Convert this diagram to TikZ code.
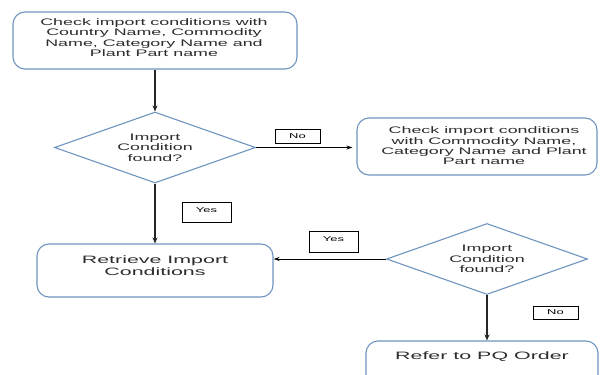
\documentclass[tikz,border=0pt]{standalone}
\usepackage{fontspec}
\setmainfont{Liberation Sans}
\newfontfamily\sfs[FakeStretch=1.88]{Liberation Sans}
\newfontfamily\sfl[FakeStretch=2.0]{Liberation Sans}
\newfontfamily\sft[FakeStretch=1.85]{Liberation Sans}
\usetikzlibrary{shapes.geometric,arrows.meta}
\definecolor{boxblue}{RGB}{112,148,192}
\definecolor{txtgray}{RGB}{45,45,45}
\tikzset{
  procbox/.style={draw=boxblue, line width=1.1pt, rounded corners=12pt, align=center, text=txtgray, inner sep=0pt},
  smalltxt/.style={font=\sfs\fontsize{9.5}{10.3}\selectfont},
  largetxt/.style={font=\sfl\fontsize{10.7}{11.5}\selectfont},
  decision/.style={draw=boxblue, line width=1.1pt, diamond, shape aspect=2.83, minimum width=201pt, minimum height=71pt, inner sep=0pt, align=center, text=txtgray, font=\sfs\fontsize{9.5}{10.3}\selectfont},
  tagbox/.style={draw=black, line width=0.9pt, inner sep=0pt, text=black, font=\sft\fontsize{7}{8}\selectfont},
  flowthick/.style={draw=black!85, line width=1.6pt, -{Stealth[length=6pt,width=5pt]}},
  flowthin/.style={draw=black, line width=0.8pt, -{Stealth[length=6pt,width=4pt]}}
}
\begin{document}
\begin{tikzpicture}[x=1pt,y=-1pt]
\useasboundingbox (0,0) rectangle (600,375);
\clip (0,0) rectangle (600,375);
\fill[white] (0,0) rectangle (600,375);
% process boxes
\node[procbox, minimum width=284pt, minimum height=57pt] (box1) at (155,40.5) {};
\node[smalltxt, text=txtgray, align=center] (t1) at (154,37.5) {Check import conditions with\\Country Name, Commodity\\Name, Category Name and\\Plant Part name};
\node[decision] (d1) at (155,147.5) {Import\\Condition\\found?};
\node[procbox, minimum width=240pt, minimum height=57pt] (box2) at (477,146.5) {};
\node[smalltxt, text=txtgray, align=center] (t2) at (484,146) {Check import conditions\\with Commodity Name,\\Category Name and Plant\\Part name};
\node[procbox, minimum width=236pt, minimum height=53pt] (ret) at (155,270.5) {};
\node[largetxt, text=txtgray, align=center] (t3) at (155,265.5) {Retrieve Import\\Conditions};
\node[decision] (d2) at (487,259) {Import\\Condition\\found?};
\node[procbox, minimum width=232pt, minimum height=60pt] (refer) at (482,371) {};
\node[largetxt, text=txtgray] (t4) at (482,357) {Refer to PQ Order};
% tags
\node[tagbox, minimum width=45pt, minimum height=14pt] (no1) at (297.5,136) {No};
\node[tagbox, minimum width=49pt, minimum height=20pt] (yes1) at (206.5,212) {\raisebox{4pt}{Yes}};
\node[tagbox, minimum width=49pt, minimum height=21pt] (yes2) at (333.5,241.5) {\raisebox{5pt}{Yes}};
\node[tagbox, minimum width=45pt, minimum height=13pt] (no2) at (555.5,312.5) {No};
% connectors
\draw[flowthick] (box1.south) -- (d1.north);
\draw[flowthick] (d1.south) -- (ret.north);
\draw[flowthin, shorten >=4pt] (d1.east) -- (box2.west |- d1.east);
\draw[flowthin] (d2.west) -- (ret.east |- d2.west);
\draw[flowthick] (d2.south) -- (d2.south |- refer.north);
\end{tikzpicture}
\end{document}
